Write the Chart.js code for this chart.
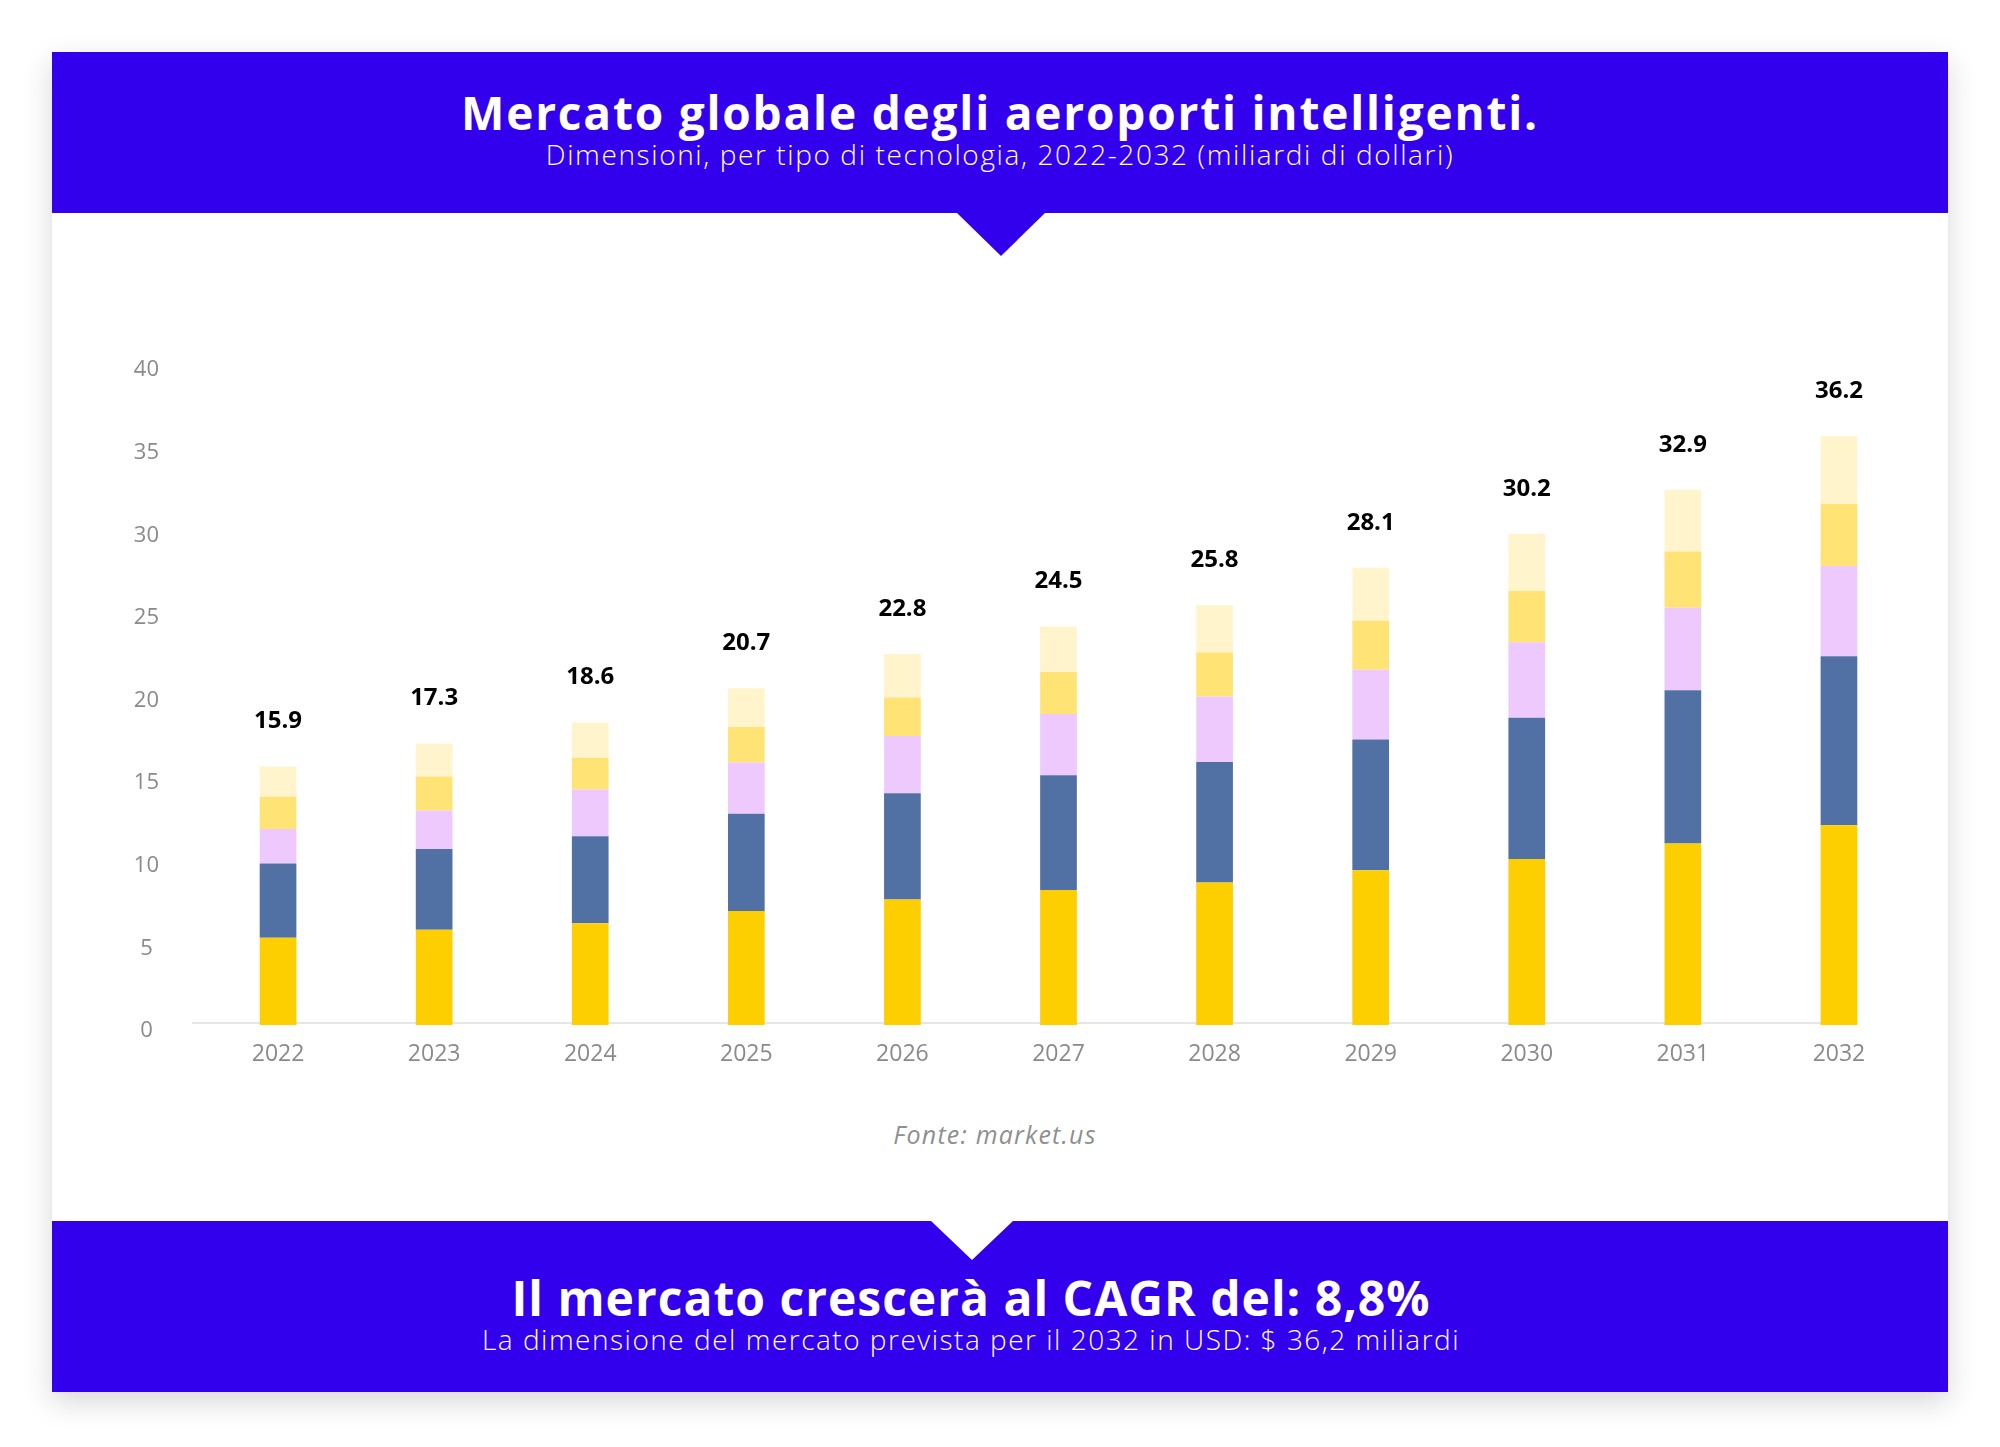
<!DOCTYPE html>
<html lang="it">
<head>
<meta charset="utf-8">
<title>Mercato globale degli aeroporti intelligenti</title>
<script src="https://cdn.jsdelivr.net/npm/chart.js@4.4.0/dist/chart.umd.min.js"></script>
<style>
    html, body {
        margin: 0;
        padding: 0;
        width: 2000px;
        height: 1447px;
        overflow: hidden;
        background: #ffffff;
        font-family: 'Open Sans', 'DejaVu Sans', sans-serif;
    }
    .card {
        position: absolute;
        left: 52px;
        top: 52px;
        width: 1896px;
        height: 1340px;
        background: #ffffff;
        box-shadow: 0 10px 28px rgba(0, 0, 0, 0.16);
    }
    .band {
        position: absolute;
        left: 52px;
        width: 1896px;
        background: #3300ee;
    }
    .band.top { top: 52px; height: 161px; }
    .band.bottom { top: 1221px; height: 171px; }
    .arrow-down {
        position: absolute;
        left: 956px;
        top: 212px;
        width: 0;
        height: 0;
        border-left: 45px solid transparent;
        border-right: 45px solid transparent;
        border-top: 44px solid #3300ee;
    }
    .notch {
        position: absolute;
        left: 930px;
        top: 1220px;
        width: 0;
        height: 0;
        border-left: 42px solid transparent;
        border-right: 42px solid transparent;
        border-top: 40px solid #ffffff;
    }
    .txt {
        position: absolute;
        left: 0;
        width: 2000px;
        text-align: center;
        white-space: nowrap;
    }
    .title { top: 84px; line-height: 56px; font-size: 46px; font-weight: 700; color: #fff; letter-spacing: 1.8px; }
    .subtitle { top: 137px; line-height: 34px; font-size: 28px; font-weight: 300; color: #fff; letter-spacing: 1.6px; }
    .source { left: -5px; top: 1118px; line-height: 32px; font-size: 25px; font-style: italic; color: #8f8f8f; letter-spacing: 1.2px; }
    .foot-title { left: -29px; top: 1270px; line-height: 56px; font-size: 48px; font-weight: 700; color: #fff; letter-spacing: 1px; }
    .foot-sub { left: -29px; top: 1322px; line-height: 34px; font-size: 28px; font-weight: 300; color: #fff; letter-spacing: 1.5px; }
    #chart {
        position: absolute;
        left: 0;
        top: 0;
    }
</style>
</head>
<body>
<div class="card"></div>
<div class="band top"></div>
<div class="arrow-down"></div>
<div class="band bottom"></div>
<div class="notch"></div>

<div class="txt title">Mercato globale degli aeroporti intelligenti.</div>
<div class="txt subtitle">Dimensioni, per tipo di tecnologia, 2022-2032 (miliardi di dollari)</div>
<div class="txt source">Fonte: market.us</div>
<div class="txt foot-title">Il mercato crescerà al CAGR del: 8,8%</div>
<div class="txt foot-sub">La dimensione del mercato prevista per il 2032 in USD: $ 36,2 miliardi</div>

<canvas id="chart" width="2000" height="1447"></canvas>

<script>
// Chart data (miliardi di dollari)
const years = ['2022', '2023', '2024', '2025', '2026', '2027', '2028', '2029', '2030', '2031', '2032'];
const tech1 = [5.36, 5.85, 6.26, 7.00, 7.71, 8.30, 8.76, 9.51, 10.21, 11.15, 12.27];
const tech2 = [4.57, 4.96, 5.34, 5.98, 6.54, 7.05, 7.41, 8.04, 8.67, 9.42, 10.39];
const tech3 = [2.12, 2.37, 2.88, 3.16, 3.51, 3.77, 4.02, 4.29, 4.65, 5.08, 5.56];
const tech4 = [1.98, 2.09, 1.94, 2.18, 2.37, 2.58, 2.71, 3.00, 3.14, 3.45, 3.81];
const tech5 = [1.86, 2.03, 2.18, 2.38, 2.67, 2.80, 2.90, 3.26, 3.53, 3.80, 4.17];
const totals = [15.9, 17.3, 18.6, 20.7, 22.8, 24.5, 25.8, 28.1, 30.2, 32.9, 36.2];
const yTicks = [0, 5, 10, 15, 20, 25, 30, 35, 40];

const seriesColors = ['#fdce00', '#5170a3', '#edc9fd', '#ffe375', '#fff4cc'];

// Baseline under the bars, ending at the last bar
const baselinePlugin = {
    id: 'baseline',
    beforeDatasetsDraw(chart) {
        const y = chart.scales.yb;
        const meta = chart.getDatasetMeta(0);
        const last = meta.data[meta.data.length - 1];
        const ctx = chart.ctx;
        ctx.save();
        ctx.strokeStyle = '#e6e6e6';
        ctx.lineWidth = 2;
        ctx.beginPath();
        ctx.moveTo(chart.chartArea.left - 8, y.getPixelForValue(0) - 2);
        ctx.lineTo(last.x + last.width / 2, y.getPixelForValue(0) - 2);
        ctx.stroke();
        ctx.restore();
    }
};

// Total labels above each stack
const totalsPlugin = {
    id: 'totals',
    afterDatasetsDraw(chart) {
        const ctx = chart.ctx;
        const x = chart.scales.x;
        const y = chart.scales.yb;
        ctx.save();
        ctx.fillStyle = '#000000';
        ctx.font = 'bold 24px "Open Sans", sans-serif';
        ctx.textAlign = 'center';
        ctx.textBaseline = 'middle';
        years.forEach((yr, i) => {
            const sum = chart.data.datasets.reduce((s, d) => s + d.data[i], 0);
            ctx.fillText(totals[i].toFixed(1), x.getPixelForValue(i), y.getPixelForValue(sum) - 45);
        });
        ctx.restore();
    }
};

new Chart(document.getElementById('chart'), {
    type: 'bar',
    data: {
        labels: years,
        datasets: [tech1, tech2, tech3, tech4, tech5].map((values, i) => ({
            label: 'Tecnologia ' + (i + 1),
            data: values,
            yAxisID: 'yb',
            backgroundColor: seriesColors[i],
            borderWidth: 0,
            categoryPercentage: 1,
            barPercentage: 0.235
        }))
    },
    options: {
        responsive: false,
        animation: false,
        layout: {
            padding: { left: 100, right: 83, top: 370, bottom: 356 }
        },
        plugins: {
            legend: { display: false },
            tooltip: { enabled: false }
        },
        scales: {
            x: {
                stacked: true,
                grid: { display: false, drawTicks: false },
                border: { display: false },
                ticks: {
                    color: '#8a8a8a',
                    padding: 10,
                    font: { family: 'Open Sans', size: 23 }
                },
                afterFit(scale) { scale.height = 60; }
            },
            // labelled value axis (ticks only)
            y: {
                position: 'left',
                min: 0,
                max: 40,
                grid: { display: false },
                border: { display: false },
                afterBuildTicks(scale) {
                    scale.ticks = yTicks.map(v => ({ value: v }));
                },
                ticks: {
                    color: '#8a8a8a',
                    crossAlign: 'center',
                    padding: 33,
                    font: { family: 'Open Sans', size: 22 }
                },
                afterFit(scale) { scale.width = 100; }
            },
            // axis the stacks are drawn on (zero sits slightly above the label axis' zero)
            yb: {
                display: false,
                stacked: true,
                min: -0.37,
                max: 40.26
            }
        }
    },
    plugins: [baselinePlugin, totalsPlugin]
});
</script>
</body>
</html>
